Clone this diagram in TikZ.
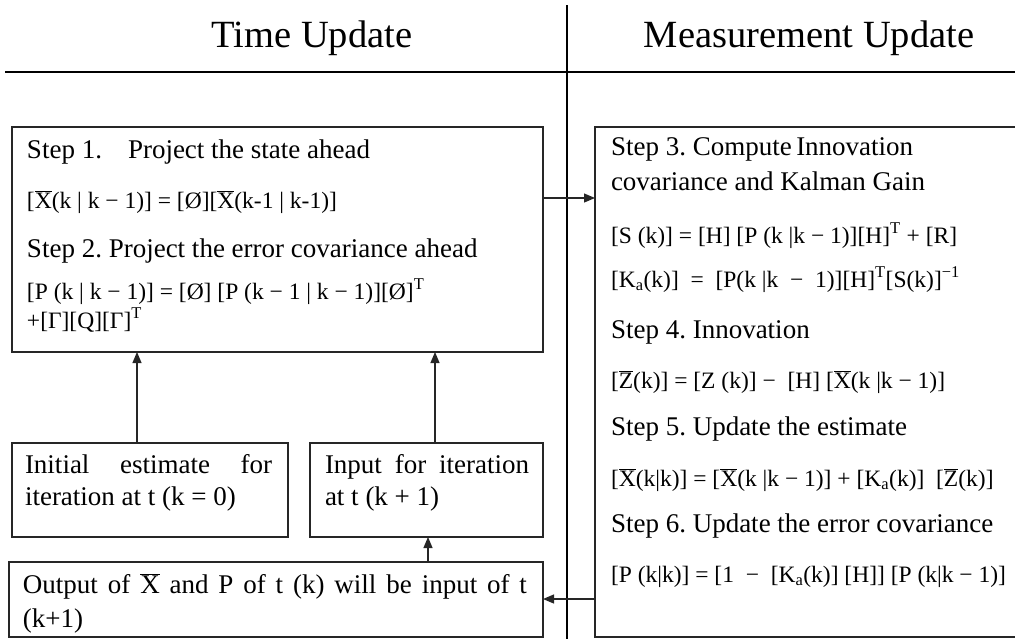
\documentclass[tikz,border=0pt]{standalone}
\usepackage{fontspec}
\setmainfont{Liberation Serif}
\usetikzlibrary{arrows.meta}
\newcommand{\barX}{\ensuremath{\overline{\mbox{X}}}}
\newcommand{\barZ}{\ensuremath{\overline{\mbox{Z}}}}
\frenchspacing
\begin{document}
\begin{tikzpicture}[x=1pt,y=-1pt,
  box/.style={draw=black!85, line width=1.2pt, inner sep=0pt, outer sep=0pt},
  txt/.style={anchor=base west, inner sep=0pt, outer sep=0pt, font=\fontsize{27}{32}\selectfont},
  eq/.style={anchor=base west, inner sep=0pt, outer sep=0pt, font=\fontsize{23.5}{28}\selectfont},
  ttl/.style={anchor=base, inner sep=0pt, outer sep=0pt, font=\fontsize{38.5}{46}\selectfont},
  arr/.style={line width=1.2pt, draw=black!85, -{Triangle[length=11pt,width=9pt]}},
  divider/.style={line width=2.2pt, draw=black}]
\useasboundingbox (0,0) rectangle (1015,638);
\clip (0,0) rectangle (1015,638);

% titles and dividers
\node[ttl] (t1) at (312,47) {Time Update};
\node[ttl] (t2) at (809,47) {Measurement Update};
\coordinate (vt) at (567,5);
\coordinate (vb) at (567,640);
\coordinate (hl) at (5,72);
\coordinate (hr) at (1020,72);
\draw[divider] (vt) -- (vb);
\draw[divider] (hl) -- (hr);

% boxes
\node[box, minimum width=531pt, minimum height=225pt] (tu) at (277.5,239.5) {};
\node[box, minimum width=276pt, minimum height=94pt] (init) at (150,490) {};
\node[box, minimum width=233pt, minimum height=94pt] (inp) at (426.5,490) {};
\node[box, minimum width=534pt, minimum height=75pt] (out) at (276,599.5) {};
\node[box, minimum width=440pt, minimum height=510pt] (mu) at (815,382) {};

% left box text
\node[txt] (s1) at (27,158) {Step 1.};
\node[txt] (s1b) at (128,158) {Project the state ahead};
\node[eq] (f1) at (27,208) {[\barX(k | k − 1)] = [Ø][\barX(k-1 | k-1)]};
\node[txt] (s2) at (27,257) {Step 2. Project the error covariance ahead};
\node[eq] (f2) at (27,299) {[P (k | k − 1)] = [Ø] [P (k − 1 | k − 1)][Ø]\textsuperscript{T}};
\node[eq] (f3) at (27,328) {+[Γ][Q][Γ]\textsuperscript{T}};

% lower boxes text
\node[txt] (i1) at (25,473) {\makebox[247pt][s]{Initial estimate for}};
\node[txt] (i2) at (25,505) {iteration at t (k = 0)};
\node[txt] (n1) at (325,473) {\makebox[204pt][s]{Input for iteration}};
\node[txt] (n2) at (325,505) {at t (k + 1)};
\node[txt] (o1) at (23,593) {\makebox[504pt][s]{Output of \barX{} and P of t (k) will be input of t}};
\node[txt] (o2) at (23,627) {(k+1)};

% right box text
\node[txt] (r1) at (611,155) {Step 3. Compute\,Innovation};
\node[txt] (r2) at (611,190) {covariance and Kalman Gain};
\node[eq] (r3) at (611,243) {[S (k)] = [H] [P (k |k − 1)][H]\textsuperscript{T} + [R]};
\node[eq] (r4) at (611,287) {[K\textsubscript{a}(k)]\enspace=\enspace[P(k |k \ − \ 1)][H]\textsuperscript{T}[S(k)]\textsuperscript{−1}};
\node[txt] (r5) at (611,338) {Step 4. Innovation};
\node[eq] (r6) at (611,388) {[\barZ(k)] = [Z (k)] − \ [H] [\barX(k |k − 1)]};
\node[txt] (r7) at (611,435) {Step 5. Update the estimate};
\node[eq] (r8) at (611,486) {[\barX(k|k)] = [\barX(k |k − 1)] + [K\textsubscript{a}(k)] \ [\barZ(k)]};
\node[txt] (r9) at (611,532) {Step 6. Update the error covariance};
\node[eq] (r10) at (611,582) {[P (k|k)] = [1 \ − \ [K\textsubscript{a}(k)] [H]] [P (k|k − 1)]};

% connectors
\coordinate (ca) at (137,0);
\coordinate (cb) at (435,0);
\coordinate (cc) at (428,0);
\coordinate (cd) at (0,198);
\coordinate (ce) at (0,599);
\draw[arr] (ca |- init.north) -- (ca |- tu.south);
\draw[arr] (cb |- inp.north) -- (cb |- tu.south);
\draw[arr] (cc |- out.north) -- (cc |- inp.south);
\draw[arr] (tu.east |- cd) -- (mu.west |- cd);
\draw[arr] (mu.west |- ce) -- (out.east |- ce);
\end{tikzpicture}
\end{document}
